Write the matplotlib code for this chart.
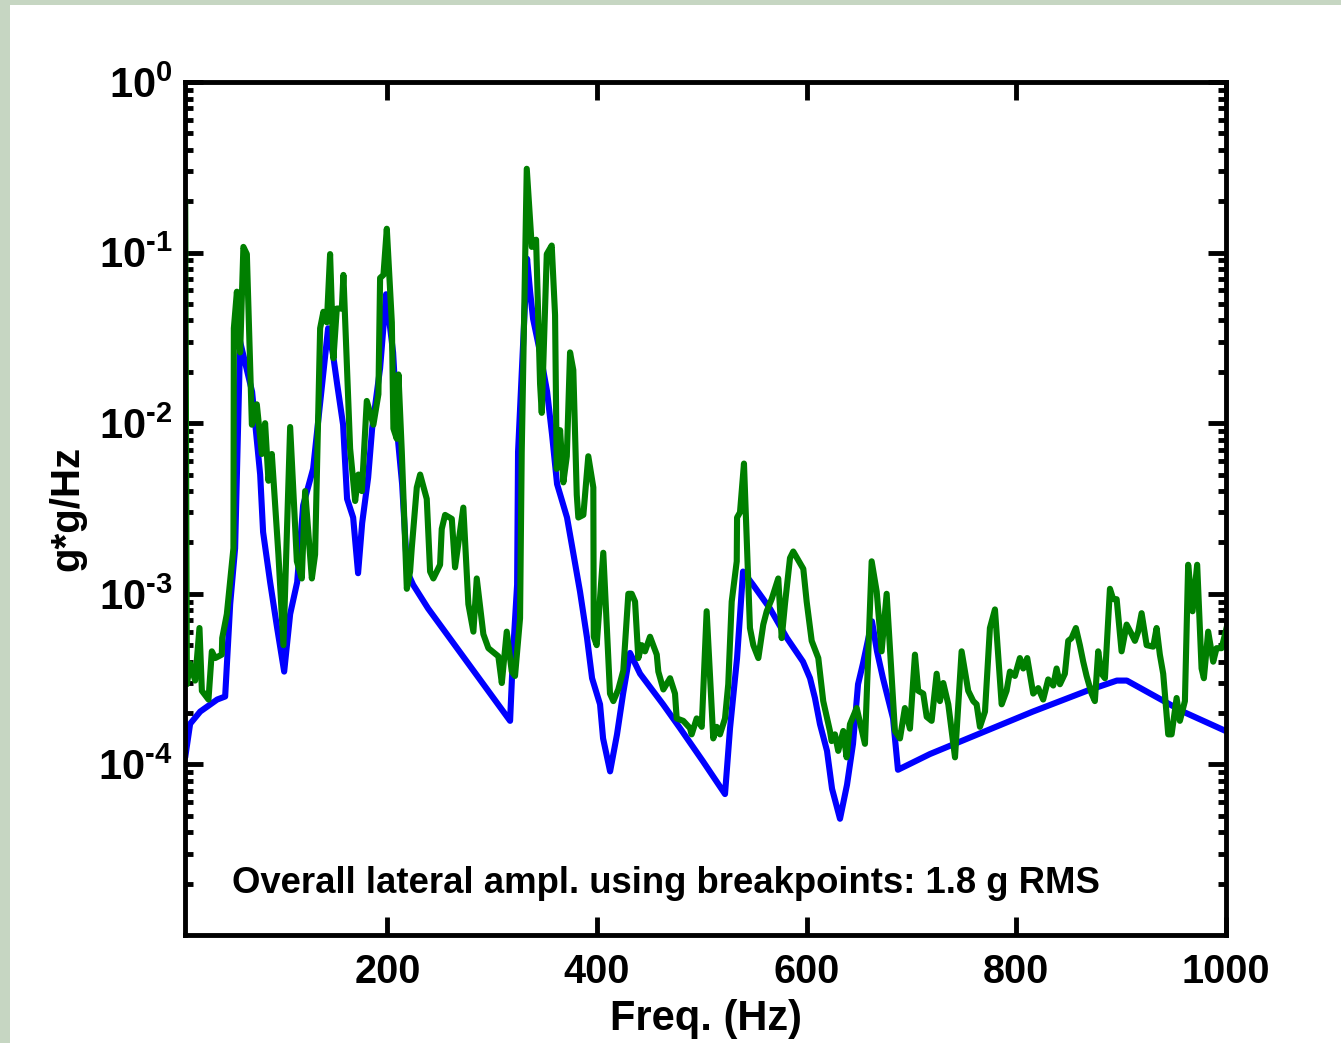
import numpy as np
import matplotlib
matplotlib.use('Agg')
import matplotlib.pyplot as plt
from matplotlib.ticker import FixedLocator, NullFormatter
from matplotlib.patches import Rectangle

plt.rcParams['font.family'] = ['Liberation Sans', 'DejaVu Sans']
plt.rcParams['font.weight'] = 'bold'
plt.rcParams['mathtext.fontset'] = 'custom'
plt.rcParams['mathtext.rm'] = 'Liberation Sans:bold'
plt.rcParams['mathtext.bf'] = 'Liberation Sans:bold'
plt.rcParams['mathtext.it'] = 'Liberation Sans:bold'

# breakpoint spectrum (blue)
freq_spec = [7.2, 11.9, 21.5, 37.7, 45.3, 50.1, 54.8, 59.6, 71.0, 78.7, 81.5, 88.2, 94.9,
             101.6, 107.3, 114.0, 119.7, 129.2, 143.5, 148.3, 152.1, 157.8, 161.6, 167.4,
             172.1, 176.0, 181.7, 185.5, 193.1, 198.8, 205.5, 210.3, 214.1, 218.9, 224.6,
             238.9, 317.1, 320.0, 323.8, 324.7, 333.3, 336.2, 339.0, 345.7, 352.4, 357.1,
             361.9, 371.4, 377.1, 383.8, 390.5, 395.3, 402.9, 405.8, 412.5, 419.1, 424.9,
             431.5, 441.1, 463.0, 479.2, 501.2, 522.1, 524.0, 526.9, 533.6, 539.3, 548.8,
             565.0, 581.2, 596.5, 603.2, 607.9, 612.7, 619.4, 624.2, 631.8, 638.5, 644.2,
             649.0, 653.7, 662.3, 667.1, 672.8, 682.4, 687.1, 717.6, 815.8, 867.3, 895.9,
             905.4, 958.8, 1001.7]
psd_spec = [1.1e-4, 1.73e-4, 2.04e-4, 2.4e-4, 2.5e-4, 8.7e-4, 1.85e-3, 3.0e-2, 1.53e-2,
            5.0e-3, 2.3e-3, 1.17e-3, 6.3e-4, 3.5e-4, 7.6e-4, 1.17e-3, 3.3e-3, 5.4e-3,
            3.6e-2, 2.5e-2, 1.7e-2, 9.8e-3, 3.6e-3, 2.8e-3, 1.32e-3, 2.6e-3, 4.8e-3,
            9.3e-3, 2.1e-2, 5.7e-2, 2.6e-2, 7.8e-3, 4.4e-3, 1.35e-3, 1.13e-3, 8.2e-4,
            1.8e-4, 4.6e-4, 1.13e-3, 6.8e-3, 9.2e-2, 5.9e-2, 4.1e-2, 2.6e-2, 1.53e-2,
            8.6e-3, 4.4e-3, 2.8e-3, 1.77e-3, 1.03e-3, 5.5e-4, 3.2e-4, 2.25e-4, 1.42e-4,
            9.1e-5, 1.5e-4, 2.6e-4, 4.5e-4, 3.4e-4, 2.25e-4, 1.63e-4, 1.04e-4, 6.7e-5,
            9.5e-5, 1.63e-4, 4.2e-4, 1.35e-3, 1.13e-3, 8.2e-4, 5.5e-4, 4.0e-4, 3.2e-4,
            2.45e-4, 1.72e-4, 1.2e-4, 7.2e-5, 4.8e-5, 7.6e-5, 1.32e-4, 2.95e-4, 3.9e-4,
            6.9e-4, 4.6e-4, 3.2e-4, 1.86e-4, 9.3e-5, 1.15e-4, 2.04e-4, 2.7e-4, 3.1e-4,
            3.1e-4, 2.04e-4, 1.55e-4]

# measured lateral spectrum (green)
freq_meas = [7.2, 8.8, 11.9, 16.7, 20.8, 23.1, 29.4, 32.6, 35.8, 42.1, 42.5, 46.9, 53.2,
             53.6, 56.5, 59.6, 62.7, 66.0, 70.8, 75.5, 80.3, 83.4, 86.6, 89.8, 96.1, 100.9,
             107.3, 113.7, 118.4, 121.6, 128.0, 131.1, 135.9, 139.0, 142.3, 145.4, 148.6,
             151.8, 156.6, 158.1, 164.5, 169.3, 172.4, 175.7, 180.4, 186.7, 191.5, 193.1,
             196.3, 199.5, 204.3, 205.8, 209.0, 210.6, 213.8, 218.6, 221.7, 223.3, 228.1,
             231.3, 237.6, 240.8, 243.9, 250.3, 251.9, 255.1, 261.5, 264.6, 272.5, 277.3,
             282.1, 285.3, 291.6, 296.4, 305.9, 309.2, 313.9, 318.7, 321.8, 326.6, 328.2,
             333.0, 337.8, 341.9, 345.7, 347.3, 352.1, 356.8, 360.0, 361.6, 364.8, 367.9,
             371.2, 374.3, 377.4, 380.7, 382.2, 387.0, 391.7, 396.5, 396.9, 399.7, 406.0,
             412.4, 415.6, 420.3, 425.1, 429.9, 433.1, 436.3, 439.4, 442.7, 445.8, 450.6,
             457.0, 458.5, 463.3, 469.7, 474.4, 476.0, 482.3, 488.7, 490.3, 495.1, 499.9,
             504.6, 510.9, 514.2, 517.3, 522.1, 525.2, 528.5, 533.3, 533.6, 536.4, 540.2,
             545.9, 549.1, 553.9, 558.6, 561.9, 566.6, 572.9, 576.2, 579.3, 584.1, 587.2,
             596.8, 600.0, 604.8, 611.1, 615.8, 622.2, 623.8, 627.0, 630.1, 634.9, 638.1,
             641.3, 647.7, 655.6, 662.0, 666.8, 671.5, 676.3, 684.2, 689.0, 693.7, 698.5,
             703.3, 706.4, 711.2, 714.5, 719.2, 724.0, 727.1, 730.3, 735.1, 741.5, 747.8,
             754.1, 758.9, 762.1, 765.3, 770.1, 774.8, 779.6, 786.0, 790.7, 793.9, 798.6,
             803.4, 806.6, 810.4, 816.1, 820.9, 825.6, 830.4, 835.2, 838.4, 841.6, 846.3,
             849.5, 852.7, 856.8, 860.6, 863.8, 867.0, 871.8, 874.9, 878.1, 881.3, 884.5,
             889.3, 892.4, 895.7, 900.4, 905.2, 910.0, 913.1, 916.2, 919.5, 924.3, 930.6,
             933.8, 936.9, 940.1, 944.9, 948.1, 952.9, 956.0, 960.8, 963.9, 968.1, 972.5,
             976.7, 978.9, 983.0, 987.8, 991.0, 995.8, 1002.1]
psd_meas = [0.204, 2.95e-4, 3.9e-4, 3.1e-4, 6.3e-4, 2.7e-4, 2.4e-4, 4.6e-4, 4.2e-4, 4.4e-4,
            5.5e-4, 7.6e-4, 1.85e-3, 3.6e-2, 5.9e-2, 2.6e-2, 0.108, 9.8e-2, 9.8e-3, 1.29e-2,
            6.6e-3, 1.0e-2, 4.6e-3, 6.6e-3, 1.7e-3, 5.0e-4, 9.5e-3, 1.55e-3, 1.23e-3,
            4.0e-3, 1.23e-3, 1.7e-3, 3.6e-2, 4.5e-2, 3.9e-2, 9.8e-2, 2.4e-2, 4.7e-2,
            4.7e-2, 7.4e-2, 7.1e-3, 3.5e-3, 5.0e-3, 4.0e-3, 1.35e-2, 9.8e-3, 1.48e-2,
            7.1e-2, 7.4e-2, 0.138, 3.9e-2, 9.3e-3, 8.1e-3, 1.93e-2, 6.8e-3, 1.07e-3,
            1.35e-3, 1.85e-3, 4.2e-3, 5.0e-3, 3.6e-3, 1.35e-3, 1.23e-3, 1.48e-3, 2.4e-3,
            2.9e-3, 2.75e-3, 1.43e-3, 3.2e-3, 8.7e-4, 6.0e-4, 1.23e-3, 5.8e-4, 4.8e-4,
            4.3e-4, 3.0e-4, 6.0e-4, 3.5e-4, 3.3e-4, 7.2e-4, 6.8e-3, 0.31, 0.108, 0.119,
            1.7e-2, 1.15e-2, 9.8e-2, 0.11, 4.3e-2, 5.4e-3, 9.1e-3, 4.5e-3, 6.4e-3, 2.6e-2,
            2.05e-2, 3.8e-3, 2.8e-3, 2.9e-3, 6.4e-3, 4.2e-3, 5.6e-4, 5.0e-4, 1.74e-3,
            2.6e-4, 2.35e-4, 2.75e-4, 3.55e-4, 1.0e-3, 1.0e-3, 9.0e-4, 4.2e-4, 5.0e-4,
            4.6e-4, 5.6e-4, 4.4e-4, 3.5e-4, 2.75e-4, 3.2e-4, 2.6e-4, 1.86e-4, 1.8e-4,
            1.63e-4, 1.5e-4, 1.86e-4, 1.66e-4, 7.9e-4, 1.42e-4, 1.66e-4, 1.5e-4, 1.86e-4,
            2.95e-4, 9.0e-4, 1.55e-3, 2.8e-3, 3.0e-3, 5.8e-3, 6.3e-4, 5.0e-4, 4.2e-4,
            6.6e-4, 7.9e-4, 9.3e-4, 1.23e-3, 5.5e-4, 8.7e-4, 1.62e-3, 1.77e-3, 1.4e-3,
            9.0e-4, 5.3e-4, 4.2e-4, 2.35e-4, 1.57e-4, 1.37e-4, 1.5e-4, 1.2e-4, 1.57e-4,
            1.1e-4, 1.72e-4, 2.14e-4, 1.32e-4, 1.55e-3, 1.03e-3, 4.6e-4, 1.0e-3, 1.57e-4,
            1.42e-4, 2.14e-4, 1.62e-4, 4.4e-4, 2.7e-4, 2.6e-4, 1.9e-4, 1.8e-4, 3.4e-4,
            2.35e-4, 3.0e-4, 2.25e-4, 1.1e-4, 4.6e-4, 2.7e-4, 2.35e-4, 2.25e-4, 1.66e-4,
            2.04e-4, 6.3e-4, 8.1e-4, 2.25e-4, 2.7e-4, 3.5e-4, 3.3e-4, 4.2e-4, 3.65e-4,
            4.2e-4, 2.6e-4, 2.8e-4, 2.4e-4, 3.15e-4, 2.9e-4, 3.65e-4, 2.95e-4, 3.4e-4,
            5.3e-4, 5.5e-4, 6.3e-4, 5.0e-4, 4.0e-4, 3.3e-4, 2.6e-4, 2.35e-4, 4.6e-4,
            3.4e-4, 3.2e-4, 1.07e-3, 9.3e-4, 9.3e-4, 4.6e-4, 6.6e-4, 5.8e-4, 5.3e-4,
            6.0e-4, 7.7e-4, 5.0e-4, 4.9e-4, 6.3e-4, 4.4e-4, 3.4e-4, 1.5e-4, 1.5e-4,
            2.45e-4, 1.8e-4, 2.35e-4, 1.48e-3, 7.9e-4, 1.48e-3, 3.65e-4, 3.2e-4, 6.0e-4,
            4.0e-4, 4.8e-4, 4.8e-4, 6.9e-4]

yticks = [1e-4, 1e-3, 1e-2, 1e-1, 1e0]
ytick_labels = [r'$\mathbf{10^{\text{-}4}}$', r'$\mathbf{10^{\text{-}3}}$',
                r'$\mathbf{10^{\text{-}2}}$', r'$\mathbf{10^{\text{-}1}}$',
                r'$\mathbf{10^{0}}$']
xticks = [200, 400, 600, 800, 1000]

W, H = 1341, 1043
fig = plt.figure(figsize=(W / 100, H / 100), dpi=100)
fig.patch.set_facecolor('white')
# slide background strips at left and top
fig.patches.append(Rectangle((0, 0), 10 / W, 1, transform=fig.transFigure,
                             facecolor='#c6d6c2', edgecolor='none', zorder=0))
fig.patches.append(Rectangle((0, 1 - 5 / H), 1, 5 / H, transform=fig.transFigure,
                             facecolor='#c6d6c2', edgecolor='none', zorder=0))

ax = fig.add_axes([185 / W, 1 - 935 / H, (1226 - 185) / W, (935 - 82) / H])
ax.plot(freq_spec, psd_spec, color='#0000ff', lw=4.4, solid_joinstyle='round',
        solid_capstyle='round')
ax.plot(freq_meas, psd_meas, color='#007f00', lw=4.4, solid_joinstyle='round',
        solid_capstyle='round')

ax.set_yscale('log')
ax.set_xlim(7, 1000)
ax.set_ylim(1e-5, 1)

ax.set_xticks(xticks)
ax.set_xticklabels([str(t) for t in xticks])
ax.yaxis.set_major_locator(FixedLocator(yticks))
ax.set_yticklabels(ytick_labels)
ax.yaxis.set_minor_locator(FixedLocator([k * 10.0 ** n for n in range(-5, 0) for k in range(2, 10)]))
ax.yaxis.set_minor_formatter(NullFormatter())

ax.tick_params(which='both', direction='in', top=True, right=True)
ax.tick_params(which='major', length=13, width=3.5)
ax.tick_params(which='minor', length=6, width=3.5)
ax.tick_params(axis='x', which='major', labelsize=28.5, pad=13)
ax.tick_params(axis='y', which='major', labelsize=30, pad=9)
for s in ax.spines.values():
    s.set_linewidth(3.5)

ax.set_xlabel('Freq. (Hz)', fontsize=30, fontweight='bold', labelpad=6)
ax.set_ylabel('g*g/Hz', fontsize=29, fontweight='bold', labelpad=8)

ax.text(52, 2.0e-5, 'Overall lateral ampl. using breakpoints: 1.8 g RMS',
        fontsize=26.3, fontweight='bold', va='center', ha='left')

fig.savefig('out.png', dpi=100, facecolor=fig.get_facecolor())
